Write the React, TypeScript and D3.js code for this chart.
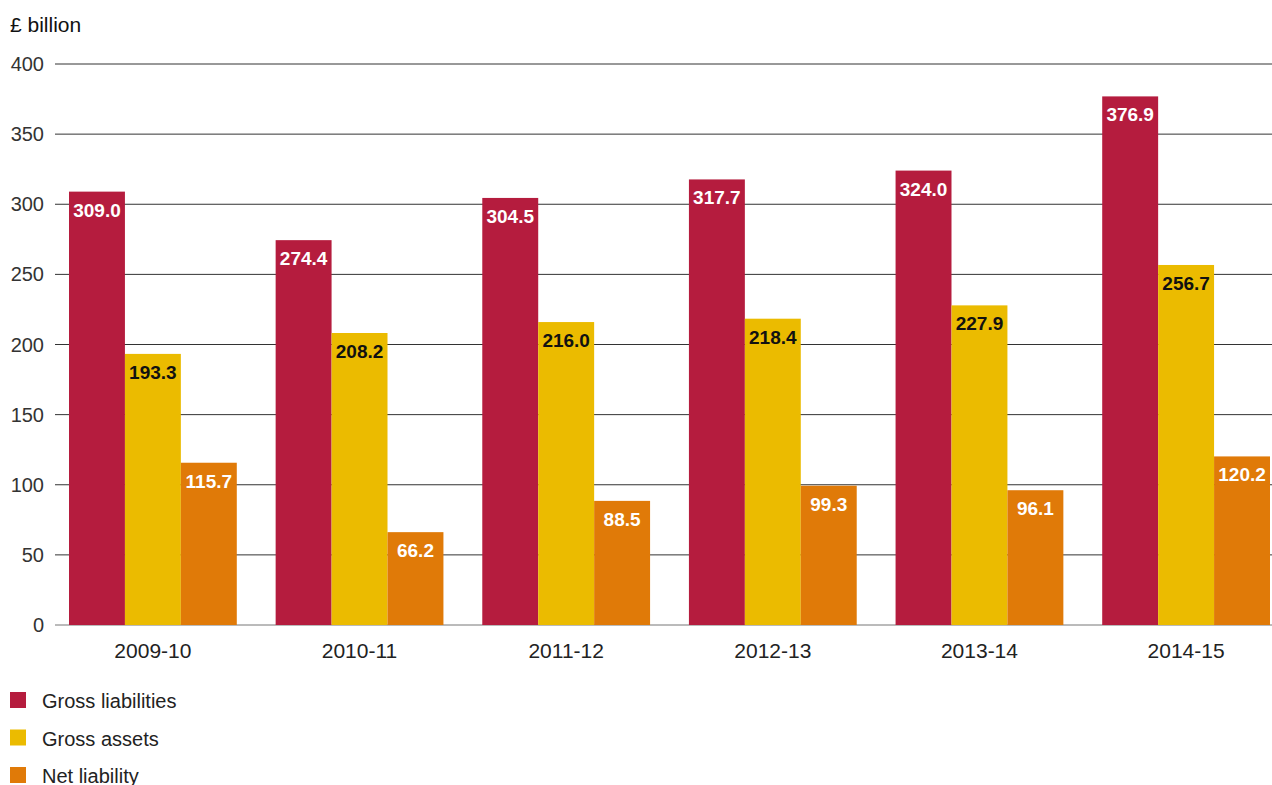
import React from "react";
import * as d3 from "d3";

const years = ["2009-10", "2010-11", "2011-12", "2012-13", "2013-14", "2014-15"];
const grossLiabilities = [309.0, 274.4, 304.5, 317.7, 324.0, 376.9];
const grossAssets = [193.3, 208.2, 216.0, 218.4, 227.9, 256.7];
const netLiability = [115.7, 66.2, 88.5, 99.3, 96.1, 120.2];
const yTicks = [0, 50, 100, 150, 200, 250, 300, 350, 400];

const seriesNames = ["Gross liabilities", "Gross assets", "Net liability"];
const seriesColors = ["#B51C3E", "#EBBB00", "#E07A08"];
const labelColors = ["#FFFFFF", "#111111", "#FFFFFF"];

export default function App() {
  const W = 1272, H = 785;
  const font = "'Liberation Sans', Arial, Helvetica, sans-serif";
  const y = d3.scaleLinear().domain([0, 400]).range([625, 64]);
  const x0 = d3.scaleBand<string>().domain(years).range([69, 1270]).paddingInner(0.188).paddingOuter(0);
  const x1 = d3.scaleBand<number>().domain([0, 1, 2]).range([0, x0.bandwidth()]);
  const series = [grossLiabilities, grossAssets, netLiability];

  return (
    <svg width={W} height={H} style={{ position: "absolute", left: 0, top: 0 }} fontFamily={font}>
      <rect width={W} height={H} fill="#fff" />
      <text x={10} y={32} fontSize={21} fill="#111">£ billion</text>
      {yTicks.map((t) => (
        <g key={t}>
          <line x1={55} x2={1272} y1={y(t)} y2={y(t)} stroke={t === 0 ? "#777" : "#333"} strokeWidth={1} />
          <text x={44} y={y(t) + 7} fontSize={20} textAnchor="end" fill="#333">{t}</text>
        </g>
      ))}
      {years.map((yr, i) => (
        <g key={yr} transform={`translate(${x0(yr)},0)`}>
          {series.map((s, k) => {
            const bx = x1(k)!;
            const bw = x1.bandwidth();
            const top = y(s[i]);
            return (
              <g key={k}>
                <rect x={bx} y={top} width={bw} height={y(0) - top} fill={seriesColors[k]} />
                <text x={bx + bw / 2} y={top + 25} fontSize={19} fontWeight="bold" textAnchor="middle" fill={labelColors[k]}>
                  {s[i].toFixed(1)}
                </text>
              </g>
            );
          })}
          <text x={x0.bandwidth() / 2} y={658} fontSize={21} textAnchor="middle" fill="#222">{yr}</text>
        </g>
      ))}
      {seriesNames.map((n, k) => (
        <g key={n} transform={`translate(10, ${692 + k * 37.5})`}>
          <rect x={0} y={0} width={16} height={16} fill={seriesColors[k]} />
          <text x={32} y={16} fontSize={20} fill="#222">{n}</text>
        </g>
      ))}
    </svg>
  );
}
